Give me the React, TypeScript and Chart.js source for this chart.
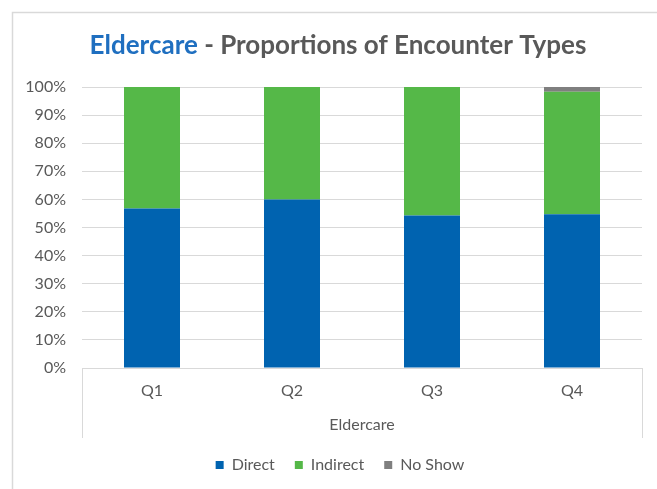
import React, { useEffect, useRef } from "react";
import { Chart, registerables } from "chart.js";

Chart.register(...registerables);

const categories = ["Q1", "Q2", "Q3", "Q4"];
const directValues = [56.8, 60.0, 54.3, 54.7];
const indirectValues = [43.2, 40.0, 45.7, 43.6];
const noShowValues = [0, 0, 0, 1.7];
const yTickStep = 10;
const yMax = 100;
const axisTitleText = "Eldercare";
const titleBlue = "Eldercare";
const titleRest = " - Proportions of Encounter Types";

const FONT = "Lato, 'Noto Sans', sans-serif";
const GRAY_TEXT = "#595959";
const LINE = "#d9d9d9";

const decorPlugin = {
  id: "decor",
  afterLayout(chart: any) {
    // shift the legend so it is centred like the reference
    if (chart.legend) {
      chart.legend.left += 14;
    }
  },
  beforeDraw(chart: any) {
    const { ctx, width, height } = chart;
    ctx.save();
    ctx.fillStyle = "#ffffff";
    ctx.fillRect(0, 0, width, height);
    ctx.strokeStyle = LINE;
    ctx.lineWidth = 1.5;
    ctx.beginPath();
    ctx.moveTo(12.5, height + 5);
    ctx.lineTo(12.5, 12.5);
    ctx.lineTo(width + 5, 12.5);
    ctx.stroke();
    ctx.restore();
  },
  afterDraw(chart: any) {
    const { ctx, chartArea } = chart;
    ctx.save();
    ctx.strokeStyle = LINE;
    ctx.lineWidth = 1;
    const boxBottom = chartArea.bottom + 70;
    ctx.beginPath();
    ctx.moveTo(Math.round(chartArea.left) + 0.5, chartArea.bottom);
    ctx.lineTo(Math.round(chartArea.left) + 0.5, boxBottom);
    ctx.moveTo(Math.round(chartArea.right) + 0.5, chartArea.bottom);
    ctx.lineTo(Math.round(chartArea.right) + 0.5, boxBottom);
    ctx.stroke();
    ctx.font = `bold 26px ${FONT}`;
    ctx.textBaseline = "alphabetic";
    ctx.textAlign = "left";
    const w1 = ctx.measureText(titleBlue).width;
    const w2 = ctx.measureText(titleRest).width;
    const cx = 338;
    const x = cx - (w1 + w2) / 2;
    ctx.fillStyle = "#1f6fc0";
    ctx.fillText(titleBlue, x, 54);
    ctx.fillStyle = GRAY_TEXT;
    ctx.fillText(titleRest, x + w1, 54);
    ctx.restore();
  },
};

export default function App() {
  const ref = useRef<HTMLCanvasElement | null>(null);

  useEffect(() => {
    if (!ref.current) return;
    Chart.defaults.font.family = FONT;
    const chart = new Chart(ref.current, {
      type: "bar",
      data: {
        labels: categories,
        datasets: [
          { label: "Direct", data: directValues, backgroundColor: "#0063b0", barPercentage: 1, categoryPercentage: 0.4 },
          { label: "Indirect", data: indirectValues, backgroundColor: "#55b848", barPercentage: 1, categoryPercentage: 0.4 },
          { label: "No Show", data: noShowValues, backgroundColor: "#7f7f7f", barPercentage: 1, categoryPercentage: 0.4 },
        ],
      },
      options: {
        animation: false,
        responsive: false,
        devicePixelRatio: 1,
        layout: { padding: { left: 24, right: 15, top: 87, bottom: 6 } },
        plugins: {
          title: { display: false },
          tooltip: { enabled: false },
          legend: {
            position: "bottom",
            labels: {
              boxWidth: 8,
              boxHeight: 8,
              padding: 20,
              color: GRAY_TEXT,
              font: { size: 16, family: FONT },
            },
          },
        },
        scales: {
          x: {
            stacked: true,
            grid: { display: false, drawTicks: false },
            border: { display: true, color: LINE, width: 1 },
            ticks: { color: GRAY_TEXT, padding: 13, font: { size: 16, family: FONT } },
            title: {
              display: true,
              text: axisTitleText,
              color: GRAY_TEXT,
              font: { size: 16, family: FONT },
              padding: { top: 0, bottom: 2.5 },
            },
            afterFit(scale: any) {
              scale.height = 69;
            },
          },
          y: {
            stacked: true,
            min: 0,
            max: yMax,
            grid: { color: LINE, drawTicks: false },
            border: { display: false },
            ticks: {
              stepSize: yTickStep,
              color: GRAY_TEXT,
              padding: 16,
              font: { size: 16, family: FONT },
              callback: (v: any) => `${v}%`,
            },
            afterFit(scale: any) {
              scale.width = 58;
            },
          },
        },
      },
      plugins: [decorPlugin],
    });
    return () => chart.destroy();
  }, []);

  return (
    <div style={{ position: "fixed", left: 0, top: 0, width: 657, height: 489 }}>
      <canvas ref={ref} width={657} height={489} style={{ width: 657, height: 489, display: "block" }} />
    </div>
  );
}
